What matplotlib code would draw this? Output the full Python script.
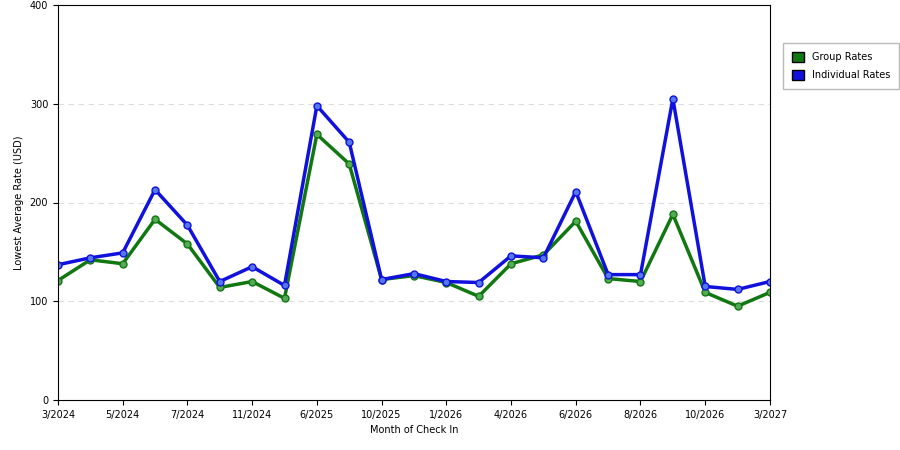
import matplotlib
matplotlib.use("Agg")
import matplotlib.pyplot as plt
import numpy as np

labels = ["3/2024","","5/2024","","7/2024","","11/2024","","6/2025","","10/2025","","1/2026","","4/2026","","6/2026","","8/2026","","10/2026","","3/2027"]
group = [121,142,138,183,158,114,120,103,269,239,122,126,119,105,138,147,181,123,120,188,109,95,109]
indiv = [137,144,149,213,177,120,135,116,298,261,122,128,120,119,146,144,211,127,127,305,115,112,120]

fig = plt.figure(figsize=(9,4.5), dpi=100)
ax = fig.add_axes([0.0644,0.111,0.7911,0.878])
x = np.arange(len(group))
ax.plot(x, group, color="#117711", lw=2.5, marker="o", ms=5, mfc="#55aa55", mec="#117711", label="Group Rates")
ax.plot(x, indiv, color="#1111dd", lw=2.5, marker="o", ms=5, mfc="#5577ee", mec="#1111dd", label="Individual Rates")
ax.set_xlim(0, len(group)-1)
ax.set_ylim(0, 400)
ax.set_yticks([0,100,200,300,400])
ax.set_xticks(x[::2])
ax.set_xticklabels(labels[::2])
ax.tick_params(labelsize=7)
for y in [100,200,300]:
    ax.axhline(y, color="#dddddd", ls=(0,(5,4)), lw=0.8, zorder=0)
ax.set_xlabel("Month of Check In", fontsize=7)
ax.set_ylabel("Lowest Average Rate (USD)", fontsize=7)
from matplotlib.patches import Patch
h = [Patch(facecolor="#117711", edgecolor="#000000"), Patch(facecolor="#1111dd", edgecolor="#000000")]
fig.legend(h, ["Group Rates","Individual Rates"], loc="upper left", bbox_to_anchor=(0.865,0.915),
           fontsize=7, frameon=True, fancybox=False, edgecolor="#aaaaaa", handlelength=1.2, handleheight=1.2,
           borderpad=0.9, labelspacing=0.8)
fig.savefig("out.png")
